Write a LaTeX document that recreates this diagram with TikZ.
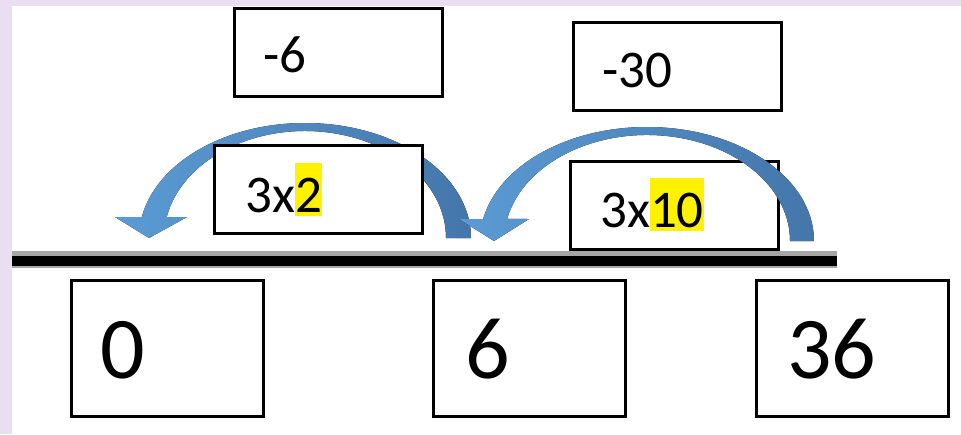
\documentclass[tikz,border=0pt]{standalone}
\usepackage{fontspec}
\setmainfont{Carlito}
\usetikzlibrary{calc}

\definecolor{lavender}{RGB}{233,223,240}
\definecolor{arrowlight}{RGB}{91,155,213}
\definecolor{arrowdark}{RGB}{68,118,170}

% yellow marker behind a digit
\newcommand{\hlt}[1]{{\setlength{\fboxsep}{0pt}\colorbox{yellow}{\rule[-4pt]{0pt}{53pt}#1}}}

\tikzset{
  numbox/.style={draw, line width=3pt, fill=white, inner sep=0pt},
  smallbox/.style={numbox, minimum width=208pt, minimum height=88pt},
  bigbox/.style={numbox, minimum width=192pt, minimum height=136pt},
  smalltxt/.style={anchor=base west, inner sep=0pt, font=\fontsize{53}{60}\selectfont},
  bigtxt/.style={anchor=base west, inner sep=0pt, font=\fontsize{88}{96}\selectfont},
  jump/.style={left color=arrowlight, right color=arrowdark},
}

\begin{document}
\begin{tikzpicture}[x=1pt, y=-1pt]
				
				% --- Page ---
				\useasboundingbox (0,0) rectangle (961,434);
				\fill[lavender] (0,0) rectangle (961,434);
				\fill[white] (12,6) rectangle (961,434);
				
				% --- Number line ---
				\draw[gray!70, line width=17pt] (12,259.5) -- (837,259.5);
				\draw[black, line width=10pt] (12,261) -- (837,261);
				
				% --- First jump (6 -> 0) ---
				\coordinate (C1) at (305,238);  % centre of the arc
				\fill[jump] ($(C1)+(0:166 and 115)$)
				  arc[start angle=0, end angle=-169.5, x radius=166, y radius=115]
				  -- (115,217) -- (149,238) -- (187,217)
				  -- ($(C1)+(-168.7:141 and 107)$)
				  arc[start angle=-168.7, end angle=0, x radius=141, y radius=107]
				  -- cycle;
				
				% --- Boxes above the line ---
				\node[smallbox] (bm6)  at (338.5,52.5) {};
				\node[smallbox] (b32)  at (318.5,189.5) {};
				\node[smallbox] (bm30) at (677.5,66) {};
				\node[smallbox] (b310) at (674.5,205) {};
				
				% --- Second jump (36 -> 6) ---
				\coordinate (C2) at (647,241);  % centre of the arc
				\fill[jump] ($(C2)+(0:167 and 114)$)
				  arc[start angle=0, end angle=-168.9, x radius=167, y radius=114]
				  -- (459,219) -- (494,241) -- (529,219)
				  -- ($(C2)+(-168:143 and 106)$)
				  arc[start angle=-168, end angle=0, x radius=143, y radius=106]
				  -- cycle;
				
				% --- Boxes below the line ---
				\node[bigbox] (b0)  at (167,348.5) {};
				\node[bigbox] (b6)  at (529.5,348.5) {};
				\node[bigbox] (b36) at (852,348.5) {};
				
				% --- Texts ---
				\node[smalltxt] (t6)   at (263,72)  {-6};
				\node[smalltxt] (t32)  at (245,212) {3x\hlt{2}};
				\node[smalltxt] (t30)  at (602,87)  {-30};
				\node[smalltxt] (t310) at (600,227) {3x\hlt{10}};
				
				\node[bigtxt] (t0)  at (100,378) {0};
				\node[bigtxt] (t6b) at (465,378) {6};
				\node[bigtxt] (t36) at (787,378) {36};
				
			\end{tikzpicture}
\end{document}
